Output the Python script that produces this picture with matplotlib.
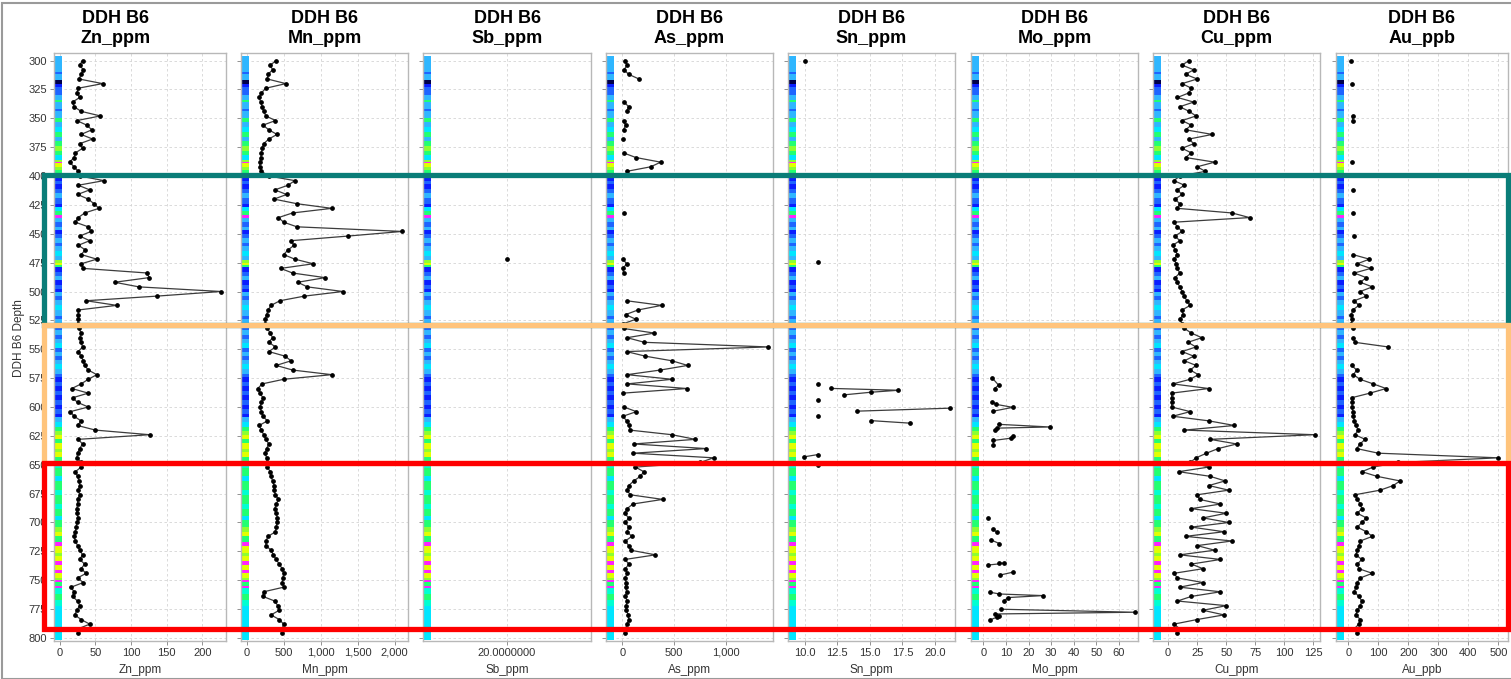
import numpy as np
import matplotlib.pyplot as plt
from matplotlib.patches import Rectangle
from matplotlib.ticker import FuncFormatter, FormatStrFormatter, MultipleLocator
import matplotlib.transforms as mtransforms

plt.rcParams['font.family'] = ['Liberation Sans', 'DejaVu Sans']

nan = np.nan
hole = "DDH B6"

# regular 4 m assay intervals
depth = np.arange(300, 800, 4)

zn_ppm = [32, 28, 33, 30, 27, 60, 26, 24, 28, 18, 20, 30, 57, 24, 38, 45, 30, 46, 28, 32, 22, 20, 14, 20, 26,
          28, 62, 26, 42, 25, 40, 48, 55, 35, 26, 22, 40, 44, 28, 42, 26, 36, 30, 52, 30, 33, 123, 125, 77, 111,
          226, 136, 37, 80, 26, 26, 26, 25, 27, 30, 28, 30, 32, 26, 30, 33, 35, 40, 52, 40, 30, 17, 40, 18, 25,
          40, 15, 20, 30, 25, 50, 126, 26, 32, 28, 25, 24, 30, 30, 22, 25, 27, 28, 26, 28, 25, 25, 24, 24, 26,
          24, 23, 22, 20, 22, 25, 28, 32, 28, 35, 30, 37, 25, 33, 16, 20, 18, 25, 28, 24, 21, 30, 42, 26, 25]

mn_ppm = [400, 320, 350, 290, 280, 530, 260, 200, 170, 190, 210, 230, 260, 390, 220, 300, 410, 300, 230, 210, 200, 190, 180, 175, 200,
          300, 650, 560, 380, 540, 370, 680, 1150, 620, 430, 500, 680, 2100, 1370, 600, 640, 560, 500, 650, 900, 460, 620, 1060, 690, 820,
          1300, 780, 450, 330, 290, 270, 250, 250, 280, 320, 350, 300, 390, 300, 520, 600, 400, 620, 1150, 500, 210, 150, 180, 220, 200,
          180, 200, 220, 280, 170, 200, 230, 260, 300, 270, 250, 270, 280, 280, 320, 330, 350, 370, 370, 390, 430, 400, 380, 400, 415,
          410, 400, 390, 290, 260, 260, 330, 360, 400, 440, 480, 500, 490, 480, 500, 230, 220, 380, 420, 440, 330, 440, 500, 480, 480]

as_ppm = [20, 45, 15, 60, 160, nan, nan, nan, nan, 15, 60, 40, nan, 10, 30, 10, nan, 5, nan, nan, 10, 130, 370, 275, 40,
          nan, nan, nan, nan, nan, nan, nan, nan, 10, nan, nan, nan, nan, nan, nan, nan, nan, nan, 5, 40, 5, 10, nan, nan, nan,
          nan, nan, 40, 380, 150, 30, 130, 5, 10, 309, 45, 213, 1415, 39, 222, 480, 632, 367, 45, 480, 45, 625, 5, nan, nan,
          13, 135, 5, 40, 65, 71, 480, 706, 109, 812, 103, 883, 754, 126, 206, 174, 109, 61, 45, 75, 390, 100, 45, 20, 60,
          28, 60, 45, 90, 28, 60, 80, 320, 25, 62, 28, 45, 25, 35, 30, 40, 28, 45, 35, 38, 55, 60, 45, 28, 25]

cu_ppm = [18, 12, 22, 15, 25, 12, 20, 18, 8, 22, 10, 18, 24, 12, 20, 15, 38, 18, 22, 12, 20, 15, 40, 25, 32,
          10, 5, 14, 8, 12, 6, 10, 8, 55, 70, 5, 8, 12, 6, 10, 4, 6, 8, 5, 7, 8, 10, 6, 8, 10,
          12, 14, 16, 19, 12, 13, 10, 12, 14, 20, 29, 17, 24, 12, 22, 14, 24, 19, 26, 19, 4, 35, 3, 3, 3,
          3, 19, 4, 35, 57, 14, 126, 36, 59, 43, 33, 24, 19, 35, 9, 36, 49, 35, 52, 25, 27, 45, 20, 50, 30,
          52, 20, 48, 15, 55, 25, 40, 10, 45, 20, 30, 5, 8, 30, 10, 45, 20, 8, 50, 30, 48, 25, 5, 10, 8]

au_ppb = [10, nan, nan, nan, nan, 12, nan, nan, nan, nan, nan, nan, 14, 14, nan, nan, nan, nan, nan, nan, nan, nan, 12, nan, nan,
          nan, nan, nan, 14, nan, nan, nan, nan, 16, nan, nan, nan, nan, 20, nan, nan, nan, 15, 70, 30, 75, 20, 60, 40, 80,
          40, 60, 20, 35, 15, 10, 12, 10, 15, nan, 17, 22, 133, nan, nan, nan, 11, 28, 17, 39, 83, 126, 72, 11, 13,
          12, 15, 17, 20, 25, 33, 22, 56, 39, 28, 100, 500, 167, 83, 45, 95, 172, 150, 106, 22, 30, 40, 45, 30, 60,
          45, 30, 60, 80, 40, 35, 30, 25, 45, 30, 35, 80, 40, 30, 25, 20, 35, 45, 40, 30, 25, 40, 35, 20, 30]

# sparse elements: None marks a break between sampled runs
sb_depth = [472]
sb_ppm = [20.0]

sn_depth = [300, None, 474.6, None, 579.7, None, 583.9, 585.5, 587.2, 589.5, None, 593.7, None,
            601.0, 603.6, None, 607.8, None, 611.8, 614.0, None, 641.2, 643.2, None, 650.4]
sn_ppm = [10.0, None, 11.0, None, 11.0, None, 12.0, 17.2, 15.1, 13.0, None, 11.0, None,
          21.2, 14.0, None, 11.0, None, 15.1, 18.1, None, 11.0, 9.9, None, 11.0]

mo_depth = [575.1, 581, 584, None, 595.4, 597.7, 600.3, 603.6, None, 615, 617.3, 618.3, 620, None,
            625.5, 627, 629, 633, None, 696, None, 706, 708.3, None, 715, 718.2, None,
            734.8, 735.4, 736.8, None, 742.9, 745.5, None, 760.4, 761.9, 763.3, 765, 767.7, None,
            775.1, 777.7, 779.2, 780.6, 782, 784.4]
mo_ppm = [4.0, 6.7, 5.0, None, 4.0, 5.6, 13.0, 4.4, None, 6.7, 29.4, 5.9, 5.0, None,
          13.0, 12.2, 4.4, 4.4, None, 2.0, None, 4.2, 6.0, None, 3.3, 7.0, None,
          7.1, 9.0, 2.2, None, 13.3, 7.4, None, 3.0, 7.1, 26.4, 10.8, 9.3, None,
          7.9, 67.1, 5.2, 7.1, 5.8, 3.0]

# lithology colour column: (top of band, colour code), each band runs to the next top
strip_bands = [(296, 's'), (310, 'b'), (312, 's'), (317, 'k'), (320, 'n'), (323, 'b'), (330, 's'), (334, 'g'),
               (336, 's'), (342, 'b'), (344, 's'), (350, 'g'), (353, 's'), (358, 'c'), (362, 'g'), (366, 's'),
               (370, 'g'), (374, 'l'), (378, 'g'), (382, 'c'), (386, 'l'), (388, 'm'), (389, 'y'), (392, 'l'),
               (395, 'g'), (400, 'n'), (404, 'b'), (407, 'n'), (411, 'b'), (415, 's'), (419, 'b'), (424, 'n'),
               (427, 'c'), (430, 'g'), (434, 'm'), (436, 's'), (440, 'b'), (444, 's'), (447, 'n'), (450, 'b'),
               (454, 's'), (458, 'b'), (461, 's'), (465, 'c'), (469, 's'), (473, 'l'), (475, 'y'), (477, 'g'),
               (479, 'n'), (483, 'b'), (487, 's'), (490, 'n'), (494, 'b'), (498, 'n'), (500, 's'), (504, 'b'),
               (507, 's'), (512, 'c'), (516, 's'), (521, 'b'), (524, 's'), (530, 'b'), (533, 's'), (538, 'b'),
               (541, 's'), (545, 'c'), (549, 'b'), (552, 's'), (556, 'b'), (559, 's'), (563, 'c'), (567, 's'),
               (571, 'b'), (574, 'n'), (578, 'b'), (582, 'n'), (586, 'b'), (590, 'n'), (594, 'b'), (598, 'n'),
               (602, 'b'), (606, 'n'), (609, 's'), (613, 'c'), (617, 'g'), (621, 'l'), (624, 'y'), (628, 'g'),
               (631, 'y'), (636, 'l'), (639, 'y'), (643, 'g'), (648, 't'), (653, 'g'), (660, 'c'), (664, 'g'),
               (672, 't'), (676, 'g'), (684, 't'), (688, 'g'), (694, 'c'), (698, 'g'), (704, 'l'), (708, 'y'),
               (712, 'g'), (717, 'm'), (720, 'y'), (726, 'l'), (729, 'y'), (733, 'm'), (737, 'y'), (741, 'm'),
               (744, 'y'), (748, 'l'), (749.5, 'm'), (751.5, 'g'), (755, 'm'), (757, 't'), (762, 'g'), (767, 't'),
               (772, 'c'), (802, None)]
strip_colors = {'s': '#2fb6ff', 'c': '#00e6ff', 't': '#00ffd2', 'b': '#1e64ff', 'n': '#0a1eff',
                'k': '#00004a', 'g': '#22ff72', 'l': '#8cff30', 'y': '#e2ff00', 'm': '#ff22ff'}

panels = [("Zn_ppm", depth, zn_ppm), ("Mn_ppm", depth, mn_ppm), ("Sb_ppm", sb_depth, sb_ppm),
          ("As_ppm", depth, as_ppm), ("Sn_ppm", sn_depth, sn_ppm), ("Mo_ppm", mo_depth, mo_ppm),
          ("Cu_ppm", depth, cu_ppm), ("Au_ppb", depth, au_ppb)]
xlims = [(-8, 233), (-76, 2180), (18.9, 21.1), (-160, 1460), (8.7, 21.55), (-5.5, 68.5), (-13, 130.6), (-41, 532)]
xsteps = [50, 500, None, 500, 2.5, 10, 25, 100]

# zones of interest, top and bottom depth
zones = [(399, 529, '#0a7d78'), (529, 648.5, '#ffc47c'), (648.5, 792, '#ff0000')]

W, H = 1511, 679
fig = plt.figure(figsize=(W / 100, H / 100), dpi=100)
lefts = [54, 241, 423, 606, 788, 971, 1153, 1336]
rights = [226, 408, 591, 773, 955, 1138, 1320, 1508]
top_px, bot_px = 53, 641

axes = []
for i, (name, dep, vals) in enumerate(panels):
    l, r = lefts[i], rights[i]
    ax = fig.add_axes([l / W, 1 - bot_px / H, (r - l) / W, (bot_px - top_px) / H])
    axes.append(ax)

    for (top, code), (bottom, _) in zip(strip_bands[:-1], strip_bands[1:]):
        ax.axhspan(top, bottom, xmin=0.006, xmax=0.048, color=strip_colors[code], lw=0, zorder=1)

    d = np.array(dep, dtype=float)
    v = np.array(vals, dtype=float)
    ax.plot(v, d, '-', color='#3c3c3c', lw=0.9, marker='o', ms=2.4,
            mfc='black', mec='black', zorder=3)

    ax.set_ylim(802.6, 293.5)
    ax.set_xlim(*xlims[i])
    ax.yaxis.set_major_locator(MultipleLocator(25))
    if xsteps[i] is None:
        ax.set_xticks([20.0])
        ax.xaxis.set_major_formatter(FormatStrFormatter('%.7f'))
    else:
        ax.xaxis.set_major_locator(MultipleLocator(xsteps[i]))
    if name in ("Mn_ppm", "As_ppm"):
        ax.xaxis.set_major_formatter(FuncFormatter(lambda x, p: f"{x:,.0f}"))
    elif name == "Sn_ppm":
        ax.xaxis.set_major_formatter(FormatStrFormatter('%.1f'))

    ax.grid(True, color='#d4d4d4', lw=0.6, ls=(0, (3, 3)))
    ax.set_axisbelow(True)
    for s in ax.spines.values():
        s.set_color('#b8b8b8')
        s.set_linewidth(1.0)
    ax.tick_params(axis='both', length=3, width=0.6, color='#808080',
                   labelsize=8, labelcolor='#333333', pad=2)
    if i > 0:
        ax.tick_params(axis='y', labelleft=False)
    ax.set_xlabel(name, fontsize=8.5, color='#333333', labelpad=4)
    # the first log's title is centred over its depth labels as well
    tx = (116 - l) / (r - l) if i == 0 else 0.5
    ax.set_title(f"{hole}\n{name}", x=tx, fontsize=13, fontweight='bold', pad=7, linespacing=1.25)

fig.text(19 / W, 1 - 338 / H, f"{hole} Depth", rotation=90, ha='center', va='center',
         fontsize=8.5, color='#333333')

# outlined depth zones spanning all logs
zone_tf = mtransforms.blended_transform_factory(fig.transFigure, axes[0].transData)
for top, bottom, col in zones:
    rect = Rectangle((44 / W, top), (1508 - 44) / W, bottom - top, transform=zone_tf,
                     fill=False, ec=col, lw=3.8, clip_on=False, zorder=10)
    fig.add_artist(rect)

fig.add_artist(Rectangle((2 / W, 0), 1.0, 1 - 3 / H, transform=fig.transFigure,
                         fill=False, ec='#9a9a9a', lw=1.5, zorder=11))

fig.savefig("out.png", dpi=100)
